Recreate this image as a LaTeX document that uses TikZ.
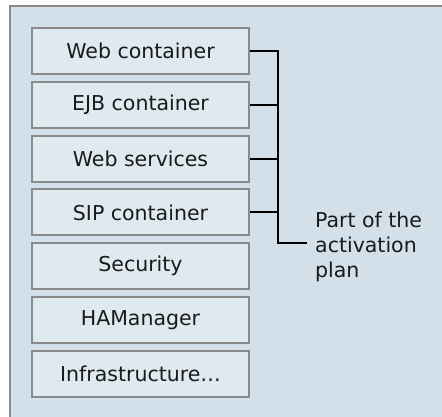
\documentclass[tikz,border=0pt]{standalone}
\usepackage{fontspec}
\setmainfont{DejaVu Sans}
\definecolor{outerfill}{HTML}{D3E0E9}
\definecolor{innerfill}{HTML}{DFE9F0}
\definecolor{edge}{HTML}{8A8A8A}
\definecolor{ink}{HTML}{1A1A1A}
\tikzset{
  layer/.style={draw=edge, line width=2pt, fill=innerfill, minimum width=217pt, minimum height=46pt, inner sep=0pt, font=\fontsize{20.5}{25}\selectfont, text=ink},
  bracket/.style={draw=black, line width=2pt},
}
\begin{document}
\begin{tikzpicture}[x=1pt,y=-1pt]
\useasboundingbox (0,0) rectangle (442,416);
\fill[white] (0,0) rectangle (442,416);
\draw[draw=edge, line width=2pt, fill=outerfill] (10,6) rectangle (460,440);
\node[layer] (web)   at (140.5,51)    {Web container};
\node[layer] (ejb)   at (140.5,104.8) {EJB container};
\node[layer] (ws)    at (140.5,158.6) {Web services};
\node[layer] (sip)   at (140.5,212.4) {SIP container};
\node[layer] (sec)   at (140.5,266.2) {Security};
\node[layer] (ha)    at (140.5,320)   {HAManager};
\node[layer] (infra) at (140.5,373.8) {Infrastructure…};
\node[anchor=north west, inner sep=0pt, align=left, font=\fontsize{20.5}{25}\selectfont, text=ink] (plan) at (315,212) {Part of the\\activation\\plan};
\coordinate (top) at (278,51);
\coordinate (join) at (278,243);
\coordinate (tail) at (307,243);
\draw[bracket] (web.east) -- (top) -- (join) -- (tail);
\draw[bracket] (ejb.east) -- (ejb.east -| top);
\draw[bracket] (ws.east) -- (ws.east -| top);
\draw[bracket] (sip.east) -- (sip.east -| top);
\end{tikzpicture}
\end{document}
